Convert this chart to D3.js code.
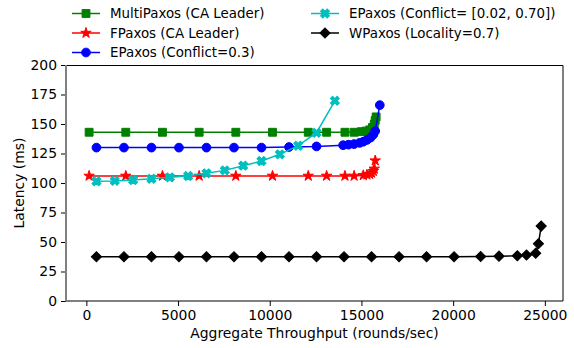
<!DOCTYPE html>
<html>
<head>
<meta charset="utf-8">
<script src="https://cdn.jsdelivr.net/npm/d3@7"></script>
<style>
  html, body { margin: 0; padding: 0; background: #fff; }
  svg { display: block; font-family: "DejaVu Sans", sans-serif; }
</style>
</head>
<body>
<svg id="chart" width="574" height="348"></svg>
<script>
// Throughput (rounds/sec) and latency (ms) per protocol
const multiPaxosX = [150, 2150, 4150, 6150, 8150, 10150, 12100, 13100, 14100, 14600, 15000, 15250, 15450, 15600, 15700, 15750, 15800];
const multiPaxosY = [143, 143, 143, 143, 143, 143, 143, 143, 143, 143, 143.5, 144, 145, 147, 150, 153, 156];

const fPaxosX = [150, 2150, 4150, 6150, 8150, 10150, 12100, 13100, 14100, 14600, 15100, 15300, 15450, 15550, 15650, 15700, 15750];
const fPaxosY = [106, 106, 106, 106, 106, 106, 106, 106, 106, 106, 106.5, 107, 107.5, 108.5, 110, 112, 119];

const ePaxosX = [550, 2050, 3550, 5050, 6550, 8050, 9550, 11050, 12550, 14000, 14300, 14600, 14900, 15100, 15300, 15500, 15650, 15750, 16000];
const ePaxosY = [130, 130, 130, 130, 130, 130, 130, 130.5, 131, 132, 132.5, 133, 134, 135, 136.5, 138.5, 141, 144, 166];

const ePaxosConflictX = [550, 1550, 2550, 3550, 4550, 5550, 6550, 7550, 8550, 9550, 10550, 11550, 12550, 13550];
const ePaxosConflictY = [101.5, 101.8, 102.5, 103.6, 104.8, 105.9, 108.2, 110.7, 114.7, 118.6, 124.3, 131.6, 142.6, 169.7];

const wPaxosX = [550, 2050, 3550, 5050, 6550, 8050, 9550, 11050, 12550, 14050, 15550, 17050, 18550, 20050, 21500, 22500, 23500, 24000, 24500, 24650, 24800];
const wPaxosY = [37.5, 37.5, 37.5, 37.5, 37.5, 37.5, 37.5, 37.5, 37.5, 37.5, 37.5, 37.5, 37.5, 37.5, 37.7, 38, 38.3, 39, 40.5, 48.5, 63.5];

const xTicks = [0, 5000, 10000, 15000, 20000, 25000];
const yTicks = [0, 25, 50, 75, 100, 125, 150, 175, 200];

const seriesNames = [
  "MultiPaxos (CA Leader)",
  "FPaxos (CA Leader)",
  "EPaxos (Conflict=0.3)",
  "EPaxos (Conflict= [0.02, 0.70])",
  "WPaxos (Locality=0.7)"
];

const series = [
  { name: seriesNames[0], xs: multiPaxosX, ys: multiPaxosY, color: "#008000", marker: "square" },
  { name: seriesNames[1], xs: fPaxosX, ys: fPaxosY, color: "#ff0000", marker: "star" },
  { name: seriesNames[2], xs: ePaxosX, ys: ePaxosY, color: "#0000ff", marker: "circle" },
  { name: seriesNames[3], xs: ePaxosConflictX, ys: ePaxosConflictY, color: "#00bfbf", marker: "x" },
  { name: seriesNames[4], xs: wPaxosX, ys: wPaxosY, color: "#000000", marker: "diamond" }
];

const svg = d3.select("#chart");
const plot = { left: 66, right: 563, top: 65, bottom: 301 };

const x = d3.scaleLinear().domain([-1110, 25990]).range([plot.left, plot.right]);
const y = d3.scaleLinear().domain([0, 200]).range([plot.bottom, plot.top]);

const symbols = {
  square:  { type: d3.symbolSquare, size: 62, rotate: 0 },
  star:    { type: d3.symbolStar, size: 34, rotate: 0 },
  circle:  { type: d3.symbolCircle, size: 60, rotate: 0 },
  x:       { type: d3.symbolCross, size: 50, rotate: 45 },
  diamond: { type: d3.symbolSquare, size: 52, rotate: 45 }
};

function drawMarker(g, kind, color, cx, cy) {
  const s = symbols[kind];
  g.append("path")
    .attr("d", d3.symbol().type(s.type).size(s.size)())
    .attr("transform", `translate(${cx},${cy}) rotate(${s.rotate})`)
    .attr("fill", color)
    .attr("stroke", color)
    .attr("stroke-width", 1)
    .attr("stroke-linejoin", "miter");
}

// Axes
const xAxis = d3.axisBottom(x).tickValues(xTicks).tickSize(5).tickPadding(4).tickFormat(d3.format("d"));
const yAxis = d3.axisLeft(y).tickValues(yTicks).tickSize(5).tickPadding(4).tickFormat(d3.format("d"));

const gx = svg.append("g").attr("transform", `translate(0,${plot.bottom})`).call(xAxis);
const gy = svg.append("g").attr("transform", `translate(${plot.left},0)`).call(yAxis);
[gx, gy].forEach(g => {
  g.select(".domain").remove();
  g.selectAll("text").attr("font-size", "13.9px").attr("font-family", "DejaVu Sans, sans-serif").attr("fill", "#000");
  g.selectAll("line").attr("stroke", "#000").attr("stroke-width", 1);
});

// Frame: top, right and bottom spines in black, left spine softer
const frame = svg.append("g").attr("fill", "none");
frame.append("path")
  .attr("d", `M${plot.left},${plot.top + 0.5}H${plot.right}V${plot.bottom}H${plot.left}`)
  .attr("stroke", "#000").attr("stroke-width", 1);
frame.append("line")
  .attr("x1", plot.left).attr("x2", plot.left)
  .attr("y1", plot.top).attr("y2", plot.bottom + 0.5)
  .attr("stroke", "#808080").attr("stroke-width", 2);

// Axis titles
svg.append("text")
  .attr("x", (plot.left + plot.right) / 2).attr("y", 338)
  .attr("text-anchor", "middle").attr("font-size", "13.9px")
  .text("Aggregate Throughput (rounds/sec)");
svg.append("text")
  .attr("transform", `translate(24,${(plot.top + plot.bottom) / 2}) rotate(-90)`)
  .attr("text-anchor", "middle").attr("font-size", "13.9px")
  .text("Latency (ms)");

// Series
const line = d3.line().x(d => x(d[0])).y(d => y(d[1]));
series.forEach(s => {
  const pts = s.xs.map((v, i) => [v, s.ys[i]]);
  const g = svg.append("g");
  g.append("path").datum(pts)
    .attr("d", line).attr("fill", "none")
    .attr("stroke", s.color).attr("stroke-width", 1.5);
  pts.forEach(p => drawMarker(g, s.marker, s.color, x(p[0]), y(p[1])));
});

// Legend, two columns
const legendCols = [{ lx: 72, tx: 110 }, { lx: 311, tx: 349 }];
const rowY = [13.5, 33, 52.5];
series.forEach((s, i) => {
  const col = legendCols[i < 3 ? 0 : 1];
  const ry = rowY[i < 3 ? i : i - 3];
  const g = svg.append("g");
  g.append("line")
    .attr("x1", col.lx).attr("x2", col.lx + 28)
    .attr("y1", ry).attr("y2", ry)
    .attr("stroke", s.color).attr("stroke-width", 1.5);
  drawMarker(g, s.marker, s.color, col.lx + 14, ry);
  g.append("text")
    .attr("x", col.tx).attr("y", ry).attr("dy", "0.35em")
    .attr("font-size", "13.4px")
    .text(s.name);
});
</script>
</body>
</html>
